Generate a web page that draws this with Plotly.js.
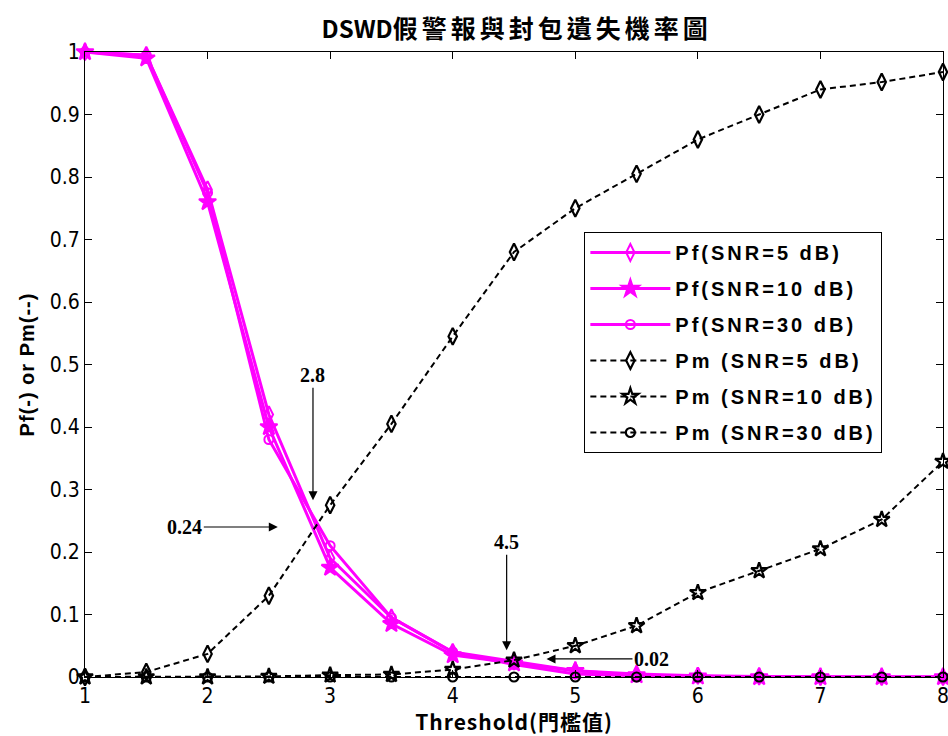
<!DOCTYPE html>
<html>
<head>
<meta charset="utf-8">
<script src="https://cdn.plot.ly/plotly-3.0.1.min.js"></script>
<style>
  html, body { margin: 0; padding: 0; background: #fff; }
  #chart { width: 948px; height: 736px; }
  /* wider tracking for legend entries and axis titles (unscoped so text measuring sees it too) */
  .legendtext { letter-spacing: 3px; }
  .xtitle { letter-spacing: 1px; }
  .ytitle { letter-spacing: 1px; }
</style>
</head>
<body>
<div id="chart"></div>
<script>
// Detection threshold values
const threshold = [1, 1.5, 2, 2.5, 3, 3.5, 4, 4.5, 5, 5.5, 6, 6.5, 7, 7.5, 8];

// False-alarm probability Pf
const pfSnr5  = [1, 0.995, 0.78, 0.42, 0.19, 0.095, 0.040, 0.025, 0.010, 0.005, 0.002, 0.001, 0, 0, 0];
const pfSnr10 = [1, 0.990, 0.76, 0.40, 0.175, 0.085, 0.035, 0.022, 0.010, 0.003, 0.001, 0, 0, 0, 0];
const pfSnr30 = [1, 0.995, 0.775, 0.38, 0.21, 0.095, 0.040, 0.020, 0.005, 0.002, 0.001, 0, 0, 0, 0];

// Miss probability Pm
const pmSnr5  = [0, 0.008, 0.037, 0.13, 0.275, 0.405, 0.545, 0.68, 0.75, 0.805, 0.86, 0.90, 0.94, 0.952, 0.968];
const pmSnr10 = [0, 0, 0, 0.001, 0.003, 0.004, 0.012, 0.027, 0.05, 0.082, 0.135, 0.17, 0.205, 0.252, 0.345];
const pmSnr30 = [0, 0, 0, 0, 0, 0, 0, 0, 0, 0, 0, 0, 0, 0, 0];

const seriesNames = [
  'Pf(SNR=5 dB)', 'Pf(SNR=10 dB)', 'Pf(SNR=30 dB)',
  'Pm (SNR=5 dB)', 'Pm (SNR=10 dB)', 'Pm (SNR=30 dB)'
];

// Callout labels: [text, x, y] of the marked crossing points
const calloutCross1X = ['2.8', 2.86, 0.283];
const calloutCross1Y = ['0.24', 2.573, 0.24];
const calloutCross2X = ['4.5', 4.44, 0.043];
const calloutCross2Y = ['0.02', 4.765, 0.029];

const MAGENTA = '#FF00FF';

function pfTrace(y, name, symbol, size, idx) {
  return {
    x: threshold, y: y, name: name, type: 'scatter', mode: 'lines+markers',
    legendgroup: 'g' + idx, cliponaxis: false,
    line: { color: MAGENTA, width: 3 },
    marker: { symbol: symbol, size: size, color: MAGENTA, line: { color: MAGENTA, width: 2 } }
  };
}
function pmTrace(y, name, symbol, size, idx) {
  return {
    x: threshold, y: y, name: name, type: 'scatter', mode: 'lines+markers',
    legendgroup: 'g' + idx, cliponaxis: false,
    line: { color: '#000', width: 2, dash: '6px,4px' },
    marker: { symbol: symbol, size: size, color: '#000', line: { color: '#000', width: 2.2 } }
  };
}

const traces = [
  pfTrace(pfSnr5,  seriesNames[0], 'diamond-tall-open', 12, 0),
  pfTrace(pfSnr10, seriesNames[1], 'star', 13, 1),
  pfTrace(pfSnr30, seriesNames[2], 'circle-open', 9, 2),
  pmTrace(pmSnr5,  seriesNames[3], 'diamond-tall-open', 12, 3),
  pmTrace(pmSnr10, seriesNames[4], 'star-open', 12, 4),
  pmTrace(pmSnr30, seriesNames[5], 'circle-open', 9, 5)
];

const tickFont = { family: '"Liberation Sans Narrow", "DejaVu Sans Condensed", sans-serif', size: 21, color: '#000' };
const noteFont = { family: '"Liberation Serif", serif', size: 20, color: '#000', weight: 'bold' };

function callout(c, ax, ay) {
  return {
    x: c[1], y: c[2], xref: 'x', yref: 'y', text: c[0],
    showarrow: true, arrowhead: 2, arrowsize: 1.5, arrowwidth: 1.2, arrowcolor: '#000',
    ax: ax, ay: ay, font: noteFont, standoff: 0
  };
}

const axisCommon = {
  showline: true, linecolor: '#000', linewidth: 1, mirror: 'ticks',
  ticks: 'inside', ticklen: 7, tickcolor: '#000', tickwidth: 1,
  showgrid: false, zeroline: false, tickfont: tickFont, ticklabeloverflow: 'allow'
};

const layout = {
  width: 948, height: 736,
  margin: { l: 85, r: 5, t: 52, b: 59 },
  paper_bgcolor: '#fff', plot_bgcolor: '#fff',
  showlegend: true,
  title: {
    text: '<b>DSWD<span style="font-size:25px;letter-spacing:4px">假警報與封包遺失機率圖</span></b>',
    font: { family: '"Liberation Sans Narrow", "Noto Sans CJK TC", sans-serif', size: 24, color: '#000' },
    x: 0.545, xanchor: 'center', y: 0.96, yanchor: 'middle'
  },
  xaxis: Object.assign({}, axisCommon, {
    range: [1, 8], tickvals: [1, 2, 3, 4, 5, 6, 7, 8],
    title: { text: '<b>Threshold(門檻值)</b>', standoff: 8,
             font: { family: '"Liberation Sans Narrow", "Noto Sans CJK TC", sans-serif', size: 21, color: '#000' } }
  }),
  yaxis: Object.assign({}, axisCommon, {
    range: [0, 1], tickvals: [0, 0.1, 0.2, 0.3, 0.4, 0.5, 0.6, 0.7, 0.8, 0.9, 1],
    ticktext: ['0', '0.1', '0.2', '0.3', '0.4', '0.5', '0.6', '0.7', '0.8', '0.9', '1'],
    title: { text: '<b>Pf(-) or Pm(--)</b>', standoff: 9,
             font: { family: '"Liberation Sans", Arial, sans-serif', size: 20, color: '#000' } }
  }),
  legend: {
    x: 0.582, y: 0.712, xanchor: 'left', yanchor: 'top',
    bgcolor: '#fff', bordercolor: '#000', borderwidth: 1,
    font: { family: '"Liberation Sans", Arial, sans-serif', size: 20, color: '#000', weight: 'bold' },
    tracegroupgap: 7, itemwidth: 80
  },
  annotations: [
    callout(calloutCross1X, 0, -125),
    callout(calloutCross1Y, -93, 0),
    callout(calloutCross2X, 0, -108),
    callout(calloutCross2Y, 105, 0)
  ]
};

Plotly.newPlot('chart', traces, layout, { displayModeBar: false, staticPlot: true });
</script>
</body>
</html>
